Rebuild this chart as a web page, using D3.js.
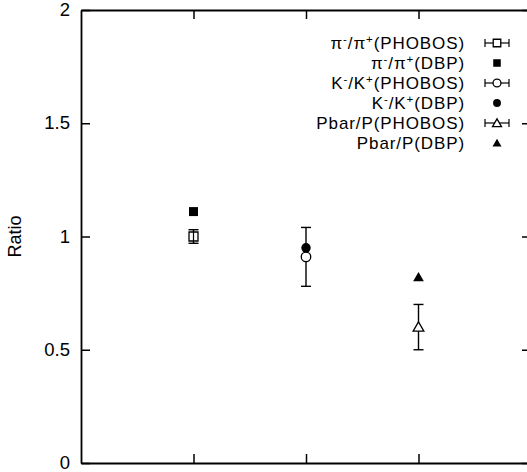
<!DOCTYPE html>
<html>
<head>
<meta charset="utf-8">
<script src="https://cdn.jsdelivr.net/npm/d3@7"></script>
<style>
	body { margin: 0; background: #fff; }
	svg { display: block; }
	text { font-family: "Liberation Sans", Arial, Helvetica, sans-serif; fill: #000; }
</style>
</head>
<body>
<div id="chart"></div>
<script>
// particle ratios at three positions on the x axis
var positions = [1, 2, 3];
var phobosRatio = [1.00, 0.91, 0.60];
var phobosErr = [0.03, 0.13, 0.10];
var dbpRatio = [1.11, 0.95, 0.82];
var markerTypes = ["square", "circle", "triangle"];
var yTicks = [0, 0.5, 1, 1.5, 2];
var yTickLabels = ["0", "0.5", "1", "1.5", "2"];

// legend: [base, sup, base, sup, tail]
var legendRows = [
	{ parts: ["π", "-", "/π", "+", "(PHOBOS)"], marker: "square", filled: false, bar: true },
	{ parts: ["π", "-", "/π", "+", "(DBP)"], marker: "square", filled: true, bar: false },
	{ parts: ["K", "-", "/K", "+", "(PHOBOS)"], marker: "circle", filled: false, bar: true },
	{ parts: ["K", "-", "/K", "+", "(DBP)"], marker: "circle", filled: true, bar: false },
	{ parts: ["Pbar/P(PHOBOS)"], marker: "triangle", filled: false, bar: true },
	{ parts: ["Pbar/P(DBP)"], marker: "triangle", filled: true, bar: false }
];

var w = 527, h = 472;
var margin = { left: 81, top: 10, right: 531, bottom: 463 };

var svg = d3.select("#chart").append("svg")
	.attr("width", w)
	.attr("height", h);

var x = d3.scaleLinear().domain([0, 4]).range([margin.left, margin.right]);
var y = d3.scaleLinear().domain([0, 2]).range([margin.bottom, margin.top]);

// axes, ticks pointing inward
var left = svg.append("g")
	.attr("transform", "translate(" + margin.left + ",0)")
	.call(d3.axisLeft(y).tickValues(yTicks)
		.tickFormat(function (d, i) { return yTickLabels[i]; })
		.tickSizeInner(-9).tickSizeOuter(0).tickPadding(11));

var right = svg.append("g")
	.attr("transform", "translate(" + margin.right + ",0)")
	.call(d3.axisRight(y).tickValues(yTicks).tickFormat("")
		.tickSizeInner(-9).tickSizeOuter(0));

var bottom = svg.append("g")
	.attr("transform", "translate(0," + margin.bottom + ")")
	.call(d3.axisBottom(x).tickValues(positions).tickFormat("")
		.tickSizeInner(-9).tickSizeOuter(0));

var top = svg.append("g")
	.attr("transform", "translate(0," + margin.top + ")")
	.call(d3.axisTop(x).tickValues(positions).tickFormat("")
		.tickSizeInner(-9).tickSizeOuter(0));

svg.selectAll(".domain").attr("stroke", "#000").attr("stroke-width", 1.8);
svg.selectAll(".tick line").attr("stroke", "#000").attr("stroke-width", 1.5);
left.selectAll(".tick text")
	.attr("font-size", 18.5)
	.attr("dy", "0.3em")
	.style("font-family", "'Liberation Sans', Arial, sans-serif");

svg.append("text")
	.attr("transform", "translate(21," + y(1) + ") rotate(-90)")
	.attr("text-anchor", "middle")
	.attr("font-size", 18)
	.text("Ratio");

function symbolPath (type, scale) {
	var sym = type == "square" ? d3.symbolSquare : type == "circle" ? d3.symbolCircle : d3.symbolTriangle;
	var size = type == "square" ? 81 : type == "circle" ? 70 : 50;
	return d3.symbol().type(sym).size(size * scale)();
}

function drawMarker (g, type, filled, scale) {
	g.append("path")
		.attr("d", symbolPath(type, scale || 1))
		.attr("transform", type == "triangle" ? "translate(0,1)" : null)
		.attr("fill", filled ? "#000" : "#fff")
		.attr("stroke", "#000")
		.attr("stroke-width", filled ? 0 : 1.3);
}

// PHOBOS points with vertical error bars
var pts = svg.append("g");
positions.forEach(function (p, i) {
	var cx = x(p);
	var hi = y(phobosRatio[i] + phobosErr[i]);
	var lo = y(phobosRatio[i] - phobosErr[i]);
	pts.append("line").attr("x1", cx).attr("x2", cx).attr("y1", hi).attr("y2", lo)
		.attr("stroke", "#000").attr("stroke-width", 1.4);
	[hi, lo].forEach(function (yy) {
		pts.append("line").attr("x1", cx - 5).attr("x2", cx + 5).attr("y1", yy).attr("y2", yy)
			.attr("stroke", "#000").attr("stroke-width", 1.4);
	});
	var g = pts.append("g").attr("transform", "translate(" + cx + "," + y(phobosRatio[i]) + ")");
	drawMarker(g, markerTypes[i], false);
	if (markerTypes[i] == "square") {
		g.append("line").attr("x1", 0).attr("x2", 0).attr("y1", -4.5).attr("y2", 4.5)
			.attr("stroke", "#000").attr("stroke-width", 1.2);
	}

	var d = pts.append("g").attr("transform", "translate(" + cx + "," + y(dbpRatio[i]) + ")");
	drawMarker(d, markerTypes[i], true);
});

// legend
var legend = svg.append("g");
legendRows.forEach(function (row, i) {
	var ly = 43 + i * 20;
	var t = legend.append("text")
		.attr("x", 465).attr("y", ly + 6)
		.attr("text-anchor", "end")
		.attr("font-size", 17)
		.attr("letter-spacing", 0.9);
	row.parts.forEach(function (s, j) {
		var sp = t.append("tspan").text(s);
		if (j % 2 == 1) {
			sp.attr("font-size", 11.5).attr("dy", -6.5);
		} else if (j > 0) {
			sp.attr("dy", 6.5);
		}
	});
	var cx = 497;
	if (row.bar) {
		legend.append("line").attr("x1", cx - 12).attr("x2", cx + 12).attr("y1", ly).attr("y2", ly)
			.attr("stroke", "#000").attr("stroke-width", 1.2);
		[cx - 12, cx + 12].forEach(function (xx) {
			legend.append("line").attr("x1", xx).attr("x2", xx).attr("y1", ly - 4).attr("y2", ly + 4)
				.attr("stroke", "#000").attr("stroke-width", 1.2);
		});
	}
	var g = legend.append("g").attr("transform", "translate(" + cx + "," + ly + ")");
	drawMarker(g, row.marker, row.filled, 0.7);
});
</script>
</body>
</html>
